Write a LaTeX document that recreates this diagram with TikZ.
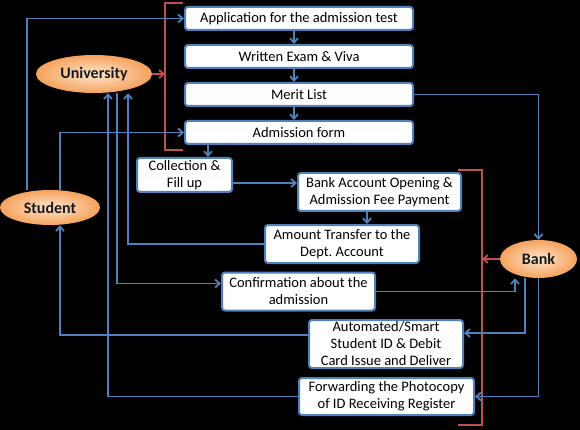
\documentclass[tikz,border=0pt]{standalone}
\usepackage{fontspec}
\setmainfont{Carlito}
\usetikzlibrary{arrows.meta,shapes.geometric,calc}
\definecolor{flowblue}{HTML}{4F81BD}
\definecolor{bracered}{HTML}{C0504D}
\definecolor{peachlight}{HTML}{FDE6CF}
\definecolor{peachdark}{HTML}{F6A25C}
\tikzset{
  stepbox/.style={draw=flowblue, line width=2pt, rounded corners=3pt, fill=white,
    align=center, inner sep=0pt, font=\fontsize{14.5}{17}\selectfont},
  party/.style={ellipse, shading=radial, inner color=peachlight, outer color=peachdark,
    inner sep=0pt, text=black!90, font=\fontsize{16}{18}\selectfont\bfseries},
  flow/.style={draw=flowblue, line width=1.8pt, -{Straight Barb[length=4.5pt,width=8pt]}},
  redbrace/.style={draw=bracered, line width=1.8pt},
  redflow/.style={redbrace, -{Straight Barb[length=4.5pt,width=8pt]}}
}
% name, x, y, width, height, text
\newcommand{\stepcell}[6]{%
  \node[stepbox, minimum width=#4pt, minimum height=#5pt] (#1) at (#2,#3) {#6};
}

\begin{document}
\begin{tikzpicture}[x=1pt,y=-1pt]
  \fill[black] (0,0) rectangle (580,430);
  \useasboundingbox (0,0) rectangle (580,430);

  % Admission test column
  \stepcell{app}{299}{18.5}{228}{23}{Application for the admission test}
  \stepcell{written}{299}{56.5}{228}{23}{Written Exam \& Viva}
  \stepcell{merit}{299}{94.5}{228}{23}{Merit List}
  \stepcell{adm}{299}{132.5}{228}{23}{Admission form}

  % Payment and ID steps
  \stepcell{coll}{184.5}{175}{95}{34}{Collection \&\\Fill up}
  \stepcell{bacc}{379.5}{192}{163}{38}{Bank Account Opening \&\\Admission Fee Payment}
  \stepcell{amt}{342}{244}{154}{38}{Amount Transfer to the\\Dept.\ Account}
  \stepcell{conf}{298.5}{291.5}{153}{38}{Confirmation about the\\admission}
  \stepcell{auto}{386}{344}{154}{48}{\fontsize{14.5}{15.5}\selectfont Automated/Smart\\Student ID \& Debit\\Card Issue and Deliver}
  \stepcell{fwd}{386.5}{396.5}{175}{37}{Forwarding the Photocopy\\of ID Receiving Register}

  % Parties
  \node[party, minimum width=116pt, minimum height=38pt] (univ) at (94,74) {University};
  \node[party, minimum width=100pt, minimum height=35pt] (student) at (50,207.5) {Student};
  \node[party, minimum width=77pt, minimum height=38pt] (bank) at (538.5,259) {Bank};

  % Red brackets
  \coordinate (lbrace) at (165,0);
  \coordinate (rbrace) at (482,0);
  \draw[redbrace] (183,3) -- (165,3) -- (165,150) -- (183,150);
  \draw[redbrace] (458,170) -- (482,170) -- (482,425) -- (458,425);
  \draw[redflow] (univ.east) -- (univ.east -| lbrace);
  \draw[redflow] (bank.west) -- (bank.west -| rbrace);

  % Test chain
  \foreach \a/\b in {app/written, written/merit, merit/adm}
    \draw[flow] ([xshift=-5pt]\a.south) -- ([xshift=-5pt]\b.north);
  \draw[flow] ([xshift=23.5pt]coll.north |- adm.south) -- ([xshift=23.5pt]coll.north);
  \draw[flow] ([yshift=-8pt]coll.east) -- ([yshift=-8pt]coll.east -| bacc.west);
  \draw[flow] ([xshift=-12.5pt]bacc.south) -- ([xshift=-12.5pt]bacc.south |- amt.north);

  % Student
  \draw[flow] ([xshift=-23pt]student.north) |- (app.west);
  \draw[flow] ([xshift=10pt]student.north) |- (adm.west);
  \draw[flow] ([yshift=9pt]auto.west) -| ([xshift=10pt]student.south);

  % University
  \draw[flow] (amt.west) -| ([xshift=34pt]univ.south);
  \draw[flow] ([xshift=23pt]univ.south) |- ([yshift=8pt]conf.west);
  \draw[flow] (fwd.west) -| ([xshift=14pt]univ.south);

  % Bank
  \draw[flow] (merit.east) -| (bank.north);
  \draw[flow] (conf.east) -| ([xshift=-23.5pt]bank.south);
  \draw[flow] ([xshift=-13.5pt]bank.south) |- ([yshift=11pt]auto.east);
  \draw[flow] (bank.south) |- (fwd.east);
\end{tikzpicture}
\end{document}
